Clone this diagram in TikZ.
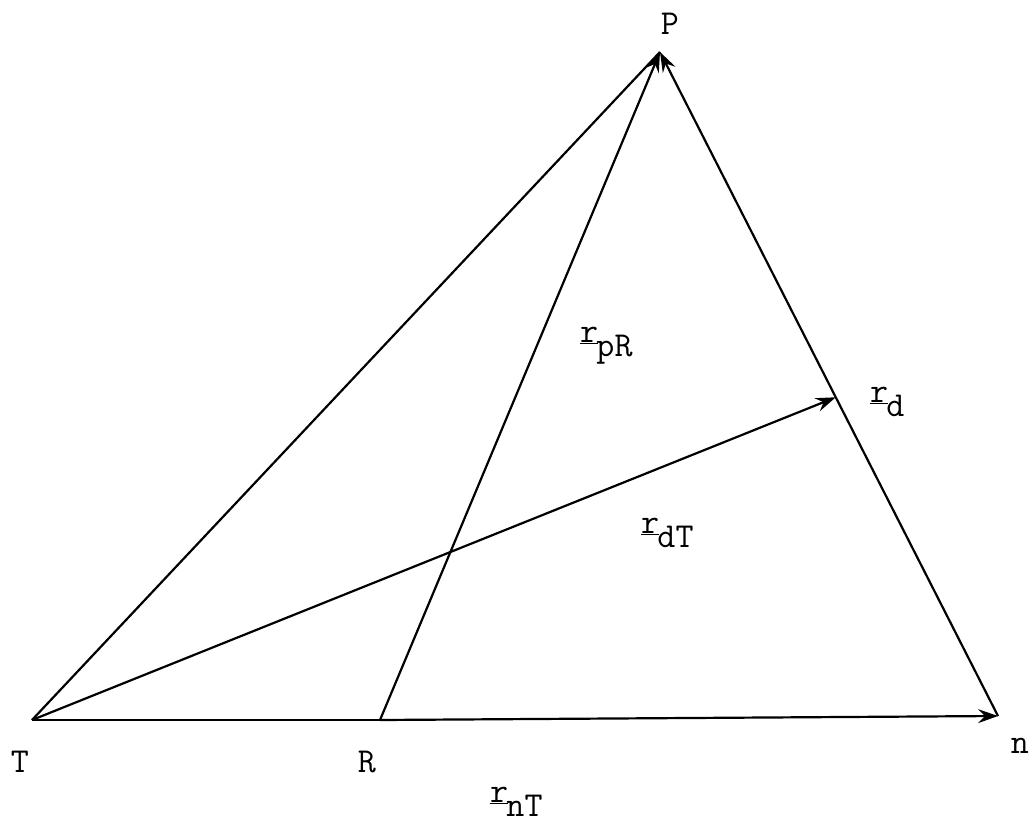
\documentclass[tikz,border=0pt]{standalone}
\usetikzlibrary{arrows.meta,calc}
\tikzset{
  vec/.style={line width=2.2pt,-{Stealth[length=20pt,width=14pt,inset=7pt]}},
  seg/.style={line width=2.2pt},
  lbl/.style={font=\fontsize{35}{39}\selectfont\ttfamily,inner sep=0pt}
}
\newcommand{\vlab}[1]{\underline{r}\kern-0.05em\raisebox{-0.42em}{#1}}
\begin{document}
\begin{tikzpicture}[x=1pt,y=-1pt]
\useasboundingbox (0,0) rectangle (1034,825);
\coordinate (T) at (32,720);
\coordinate (R) at (380,720);
\coordinate (n) at (998,716);
\coordinate (P) at (660,52);
\coordinate (d) at ($(P)!0.52!(n)$);
\draw[seg] (T) -- (P);
\draw[vec] (R) -- (P);
\draw[vec] (n) -- (P);
\draw[seg] (T) -- (R);
\draw[vec] (R) -- (n);
\draw[vec] (T) -- (d);
\node[lbl,anchor=base] (lP) at (670,34) {P};
\node[lbl,anchor=base] (lT) at (20,772) {T};
\node[lbl,anchor=base] (lR) at (367,772) {R};
\node[lbl,anchor=base] (ln) at (1020,753) {n};
\node[lbl,anchor=base west] (lnT) at (490,802) {\vlab{nT}};
\node[lbl,anchor=base west] (lpR) at (580,342) {\vlab{pR}};
\node[lbl,anchor=base west] (ld) at (870,402) {\vlab{d}};
\node[lbl,anchor=base west] (ldT) at (641,533) {\vlab{dT}};
\end{tikzpicture}
\end{document}
